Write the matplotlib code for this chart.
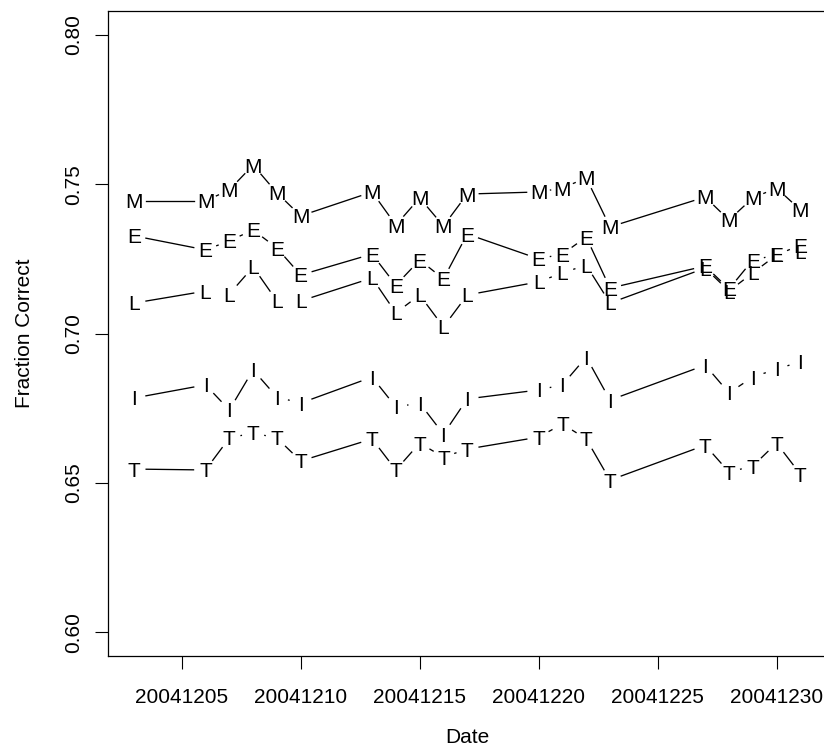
import numpy as np
import matplotlib.pyplot as plt
from matplotlib import transforms

# daily results, letters used as plotting symbols (R type="b" style)
dates = [20041203, 20041206, 20041207, 20041208, 20041209, 20041210,
         20041213, 20041214, 20041215, 20041216, 20041217, 20041220,
         20041221, 20041222, 20041223, 20041227, 20041228, 20041229,
         20041230, 20041231]

m_vals = [0.7444, 0.7444, 0.7481, 0.7564, 0.7471, 0.7394, 0.7474, 0.7363,
          0.7454, 0.7360, 0.7467, 0.7474, 0.7487, 0.7521, 0.7357, 0.7457,
          0.7380, 0.7454, 0.7487, 0.7414]
e_vals = [0.7327, 0.7280, 0.7310, 0.7347, 0.7286, 0.7196, 0.7266, 0.7162,
          0.7246, 0.7183, 0.7333, 0.7250, 0.7266, 0.7323, 0.7152, 0.7226,
          0.7149, 0.7246, 0.7263, 0.7296]
l_vals = [0.7102, 0.7142, 0.7132, 0.7223, 0.7109, 0.7109, 0.7186, 0.7069,
          0.7129, 0.7022, 0.7129, 0.7173, 0.7203, 0.7229, 0.7102, 0.7219,
          0.7142, 0.7203, 0.7263, 0.7273]
i_vals = [0.6784, 0.6828, 0.6744, 0.6878, 0.6787, 0.6767, 0.6854, 0.6754,
          0.6767, 0.6663, 0.6781, 0.6811, 0.6828, 0.6921, 0.6777, 0.6894,
          0.6801, 0.6854, 0.6881, 0.6905]
t_vals = [0.6546, 0.6543, 0.6650, 0.6667, 0.6650, 0.6573, 0.6647, 0.6543,
          0.6633, 0.6586, 0.6613, 0.6653, 0.6697, 0.6647, 0.6509, 0.6626,
          0.6536, 0.6556, 0.6633, 0.6529]

series = [('M', m_vals), ('E', e_vals), ('L', l_vals), ('I', i_vals), ('T', t_vals)]
xticks = [20041205, 20041210, 20041215, 20041220, 20041225, 20041230]
yticks = [0.60, 0.65, 0.70, 0.75, 0.80]

plt.rcParams['font.family'] = ['Liberation Sans', 'DejaVu Sans']
fs = 15

fig = plt.figure(figsize=(8.24, 7.52), dpi=100)
ax = fig.add_axes([107.5 / 824, (752 - 656) / 752, (827 - 107.5) / 824, (656 - 11) / 752])

span = dates[-1] - dates[0]
ax.set_xlim(dates[0] - 0.04 * span, dates[-1] + 0.04 * span)
ax.set_ylim(0.592, 0.808)

ax.set_xticks(xticks)
ax.set_xticklabels([str(d) for d in xticks], fontsize=fs)
ax.set_yticks(yticks)
ax.set_yticklabels(['%.2f' % v for v in yticks], fontsize=fs, rotation=90, va='center')
ax.tick_params(direction='out', length=9.3, width=0.8, color='black')
ax.tick_params(axis='x', pad=14)
ax.tick_params(axis='y', pad=8)
for s in ax.spines.values():
    s.set_linewidth(0.9)

ax.set_xlabel('Date', fontsize=fs, labelpad=15)
ax.set_ylabel('Fraction Correct', fontsize=fs, labelpad=22)

# lines with gaps around each symbol, as in R's type="b"
gap = 12
inv = ax.transData.inverted()
for letter, vals in series:
    pts = ax.transData.transform(np.column_stack([dates, vals]))
    for p0, p1 in zip(pts[:-1], pts[1:]):
        f = gap / np.hypot(*(p1 - p0))
        if f < 0.5:
            seg = inv.transform([p0 + f * (p1 - p0), p1 - f * (p1 - p0)])
            ax.plot(seg[:, 0], seg[:, 1], color='black', lw=0.95)
    shift = transforms.offset_copy(ax.transData, fig=fig, y=-0.358 * fs, units='points')
    for x, y in zip(dates, vals):
        ax.text(x, y, letter, transform=shift, ha='center', va='baseline', fontsize=fs)

fig.savefig('out.png', dpi=100)
